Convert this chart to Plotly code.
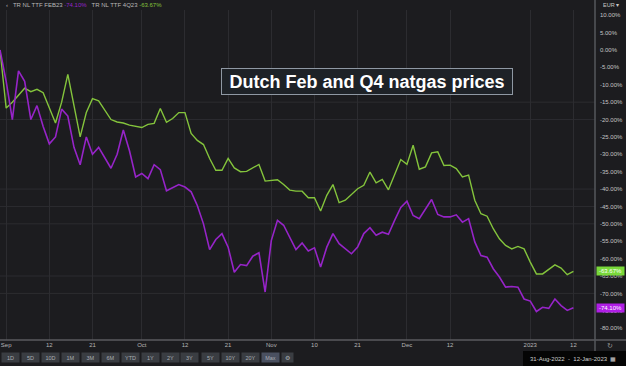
import pandas as pd
import plotly.graph_objects as go

# ---------------- data ----------------
holidays = ["2022-12-26", "2022-12-27", "2023-01-02"]
dates = [d for d in pd.bdate_range("2022-08-31", "2023-01-12")
         if d.strftime("%Y-%m-%d") not in holidays]

feb23_name = "TR NL TTF FEB23"
q423_name = "TR NL TTF 4Q23"

feb23 = [0, -9, -20, -6, -9, -20, -16, -22, -27, -25,
         -17, -19, -28, -33, -25, -30, -28, -31, -34, -30,
         -23, -29, -36.5, -35.5, -37, -33, -34.4, -40.5, -39.6, -38.7,
         -39.4, -40.8, -44.7, -50, -57.4, -54.5, -52.8, -56.7, -63.9, -61.7,
         -62, -59.3, -58.3, -69.6, -54.8, -49, -50.4, -53.8, -57.4, -55.5,
         -57.8, -56.9, -62.4, -56.7, -52.8, -55.7, -57.1, -58.6, -56.7, -52.8,
         -51.1, -53.3, -52.4, -53, -49, -45.3, -43.5, -47.6, -48.5, -45.9,
         -43, -47.3, -48, -48, -47.4, -49.5, -48.5, -55.2, -59.1, -59.6,
         -62.9, -65.3, -68.2, -68, -68.2, -71.6, -72.2, -75.2, -74, -74.3,
         -71.6, -73.5, -74.9, -74.10]

q423 = [0, -16.7, -15, -13, -11, -12, -11.3, -12.3, -16.5, -21,
        -15, -7, -16, -25, -18, -14, -14.6, -17.3, -20, -20.7,
        -21, -21.6, -22, -22.3, -21.4, -21.1, -16.8, -20.8, -19.7, -18,
        -18, -24, -26, -27.2, -31.2, -34.6, -34.6, -31.2, -33.9, -35,
        -34.9, -33.8, -32.9, -37.7, -37.5, -37.3, -38.7, -40.3, -40.6, -40.6,
        -42.5, -42.5, -46.3, -41.8, -38.7, -43.9, -43.2, -41.5, -39.9, -38.9,
        -35.1, -38.2, -37.2, -40.2, -36, -31.5, -32.9, -27.4, -34.3, -33.6,
        -29.6, -29.3, -33.2, -33.1, -34.1, -36.5, -36, -43.2, -47.1, -47.8,
        -51.4, -54.3, -56.2, -57.2, -56.5, -57.2, -61, -64.4, -64.4, -63.2,
        -61.8, -62.7, -64.6, -63.67]

x_tick_dates = ["2022-09-01", "2022-09-12", "2022-09-21", "2022-10-03", "2022-10-12",
                "2022-10-21", "2022-11-01", "2022-11-10", "2022-11-21", "2022-12-01",
                "2022-12-12", "2023-01-03", "2023-01-12"]
x_tick_labels = ["Sep", "12", "21", "Oct", "12", "21", "Nov", "10", "21", "Dec",
                 "12", "2023", "12"]
y_tick_vals = list(range(10, -81, -5))
y_tick_labels = [f"{v:.2f}%" for v in y_tick_vals]
grid_levels = [-15, -20, -40, -45, -50, -65, -70]
buttons = ["1D", "5D", "10D", "1M", "3M", "6M", "YTD", "1Y", "2Y", "3Y",
           "5Y", "10Y", "20Y", "Max", "⚙"]
title_text = "Dutch Feb and Q4 natgas prices"
date_range_text = "31-Aug-2022  -  12-Jan-2023"

# ---------------- style ----------------
BG = "#1c1c1f"
GRID = "#2c2c30"
PURPLE = "#9624c8"
GREEN = "#84c43c"
FONT = "Liberation Sans, Arial, sans-serif"

fig = go.Figure()
fig.add_trace(go.Scatter(x=dates, y=q423, mode="lines", name=q423_name,
                         line=dict(color=GREEN, width=1.4)))
fig.add_trace(go.Scatter(x=dates, y=feb23, mode="lines", name=feb23_name,
                         line=dict(color=PURPLE, width=1.6)))

W, H = 626, 366
ml, mr, mt, mb = 0, 31, 10, 26
pw = W - ml - mr
ph = H - mt - mb


def px_x(px):
    return (px - ml) / pw


def px_y(py):
    return (H - mb - py) / ph


shapes = []
for g in grid_levels:
    shapes.append(dict(type="line", xref="paper", x0=0, x1=1, yref="y", y0=g, y1=g,
                       line=dict(color=GRID, width=1), layer="below"))
# axis frame lines
shapes.append(dict(type="line", xref="paper", x0=0, x1=px_x(W), yref="paper", y0=0, y1=0,
                   line=dict(color="#5a5a5f", width=1.5)))
shapes.append(dict(type="line", xref="paper", x0=1, x1=1, yref="paper", y0=px_y(352), y1=px_y(0),
                   line=dict(color="#55575c", width=1.5)))
# date range black box
shapes.append(dict(type="rect", xref="paper", x0=px_x(523), x1=px_x(W), yref="paper",
                   y0=px_y(366), y1=px_y(351), fillcolor="#050505", line=dict(width=0)))

annotations = []
annotations.append(dict(text="<b>" + title_text + "</b>", xref="paper", yref="paper",
                        x=px_x(367), y=px_y(81.5), xanchor="center", yanchor="middle",
                        showarrow=False, font=dict(family=FONT, size=18, color="#ffffff"),
                        bgcolor="#1e2227", bordercolor="#8f98a3", borderwidth=1,
                        borderpad=1, width=288, height=23))
legend_html = (f"‹   {feb23_name} <span style='color:{PURPLE}'>{feb23[-1]:.2f}%</span>   "
               f"{q423_name} <span style='color:{GREEN}'>{q423[-1]:.2f}%</span>")
annotations.append(dict(text=legend_html, xref="paper", yref="paper", x=px_x(4), y=px_y(5.5),
                        xanchor="left", yanchor="middle", showarrow=False,
                        font=dict(family=FONT, size=6, color="#b8b8b8")))
annotations.append(dict(text="EUR ▾", xref="paper", yref="paper", x=px_x(611), y=px_y(5),
                        xanchor="center", yanchor="middle", showarrow=False,
                        font=dict(family=FONT, size=5.5, color="#c8c8c8")))
# last-value boxes
for val, col in [(q423[-1], "#79d83a"), (feb23[-1], "#b01ee6")]:
    annotations.append(dict(text=f"{val:.2f}%", xref="paper", yref="y", x=1, y=val,
                            xanchor="left", yanchor="middle", xshift=1, showarrow=False,
                            font=dict(family=FONT, size=6, color="#ffffff"),
                            bgcolor=col, width=27, height=8, borderpad=0))
# range buttons
bx = 10
for b in buttons:
    wb = 17 if b != "⚙" else 11
    cx = bx if b != "⚙" else bx - 3
    annotations.append(dict(text=b, xref="paper", yref="paper", x=px_x(cx), y=px_y(358),
                            xanchor="center", yanchor="middle", showarrow=False,
                            font=dict(family=FONT, size=5.5, color="#a9adb3"),
                            bgcolor="#4a5060" if b == "Max" else "#3a3d42",
                            width=wb, height=9, borderpad=0))
    bx += 20
annotations.append(dict(text=date_range_text + "  ▦", xref="paper", yref="paper",
                        x=px_x(573), y=px_y(358.5), xanchor="center", yanchor="middle",
                        showarrow=False, font=dict(family=FONT, size=6, color="#d0d0d0")))
annotations.append(dict(text="↻", xref="paper", yref="paper", x=px_x(610), y=px_y(346),
                        xanchor="center", yanchor="middle", showarrow=False,
                        font=dict(family="DejaVu Sans", size=7, color="#9a9a9a")))

fig.update_layout(
    width=W, height=H,
    margin=dict(l=ml, r=mr, t=mt, b=mb, pad=0),
    paper_bgcolor=BG, plot_bgcolor=BG,
    showlegend=False,
    font=dict(family=FONT, size=6, color="#c0c0c0"),
    xaxis=dict(type="date", range=["2022-08-31", "2023-01-17 12:00"],
               rangebreaks=[dict(bounds=["sat", "mon"]), dict(values=holidays)],
               tickmode="array", tickvals=x_tick_dates, ticktext=x_tick_labels,
               showgrid=True, gridcolor=GRID, gridwidth=1, zeroline=False,
               showline=False, ticks="", tickfont=dict(size=6, color="#b5b5b5"),
               fixedrange=True),
    yaxis=dict(side="right", range=[-83.4, 11.5], tickmode="array",
               tickvals=y_tick_vals, ticktext=y_tick_labels, showgrid=False,
               zeroline=False, showline=False, ticks="", ticklabelstandoff=4,
               tickfont=dict(size=6, color="#c4c4c4"), fixedrange=True),
    shapes=shapes,
    annotations=annotations,
)

fig.write_html("out.html", config={"displayModeBar": False},
               post_script="document.body.style.margin='0';"
                           "document.body.style.overflow='hidden';"
                           f"document.body.style.background='{BG}';")
